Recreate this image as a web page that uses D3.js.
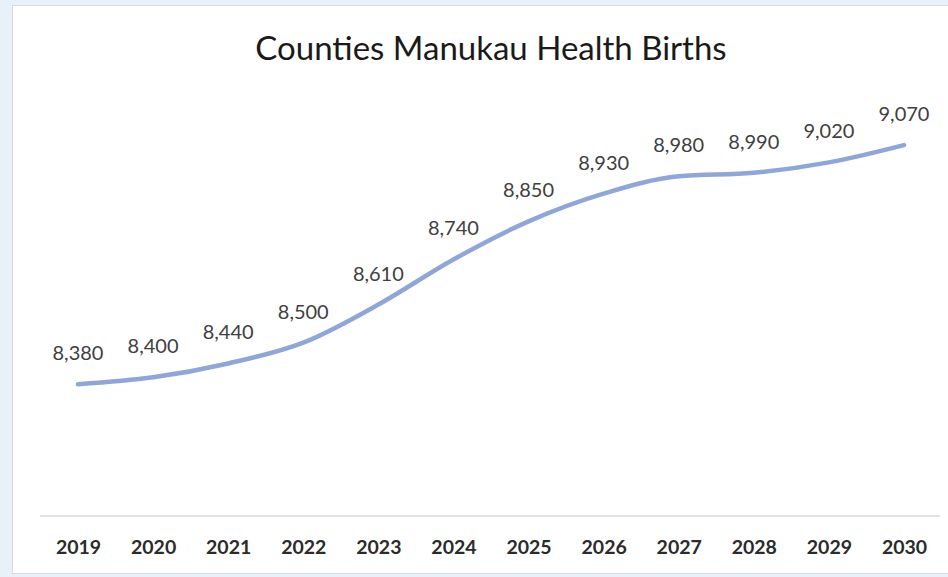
<!DOCTYPE html>
<html>
<head>
<meta charset="utf-8">
<script src="https://cdn.jsdelivr.net/npm/d3@7"></script>
<style>
  body { margin: 0; background: #e8f1fa; }
  svg { display: block; }
</style>
</head>
<body>
<div id="chart"></div>
<script>
const years = ['2019', '2020', '2021', '2022', '2023', '2024', '2025', '2026', '2027', '2028', '2029', '2030'];
const births = [8380, 8400, 8440, 8500, 8610, 8740, 8850, 8930, 8980, 8990, 9020, 9070];

const width = 948, height = 577;
const font = 'Lato, "Open Sans", sans-serif';

const svg = d3.select('#chart')
  .append('svg')
  .attr('width', width)
  .attr('height', height);

// white chart panel
svg.append('rect')
  .attr('x', 12.5).attr('y', 5.5)
  .attr('width', 945).attr('height', 568)
  .attr('fill', '#fff')
  .attr('stroke', '#d9d9d9');

const x = d3.scalePoint()
  .domain(years)
  .range([78, 904]);

const y = d3.scaleLinear()
  .domain([8000, 9200])
  .range([516, 100]);

svg.append('text')
  .attr('x', 491).attr('y', 60)
  .attr('text-anchor', 'middle')
  .style('font-family', font)
  .style('font-size', '33px')
  .style('fill', '#1a1a1a')
  .text('Counties Manukau Health Births');

// category axis
const xAxis = svg.append('g')
  .attr('transform', `translate(0,${y(8000)})`)
  .call(d3.axisBottom(x).tickSize(0).tickPadding(24));
xAxis.select('.domain')
  .attr('d', 'M40,0H940')
  .attr('stroke', '#d9d9d9')
  .attr('stroke-width', 1.5);
xAxis.selectAll('text')
  .style('font-family', font)
  .style('font-size', '19.5px')
  .style('font-weight', 'bold')
  .style('fill', '#2b2b2b');

const line = d3.line()
  .x((d, i) => x(years[i]))
  .y(d => y(d))
  .curve(d3.curveMonotoneX);

svg.append('path')
  .datum(births)
  .attr('d', line)
  .attr('fill', 'none')
  .attr('stroke', '#8fa6d6')
  .attr('stroke-width', 4.5)
  .attr('stroke-linecap', 'round');

svg.append('g')
  .selectAll('text')
  .data(births)
  .enter().append('text')
  .attr('x', (d, i) => x(years[i]))
  .attr('y', d => y(d) - 24)
  .attr('text-anchor', 'middle')
  .style('font-family', font)
  .style('font-size', '20px')
  .style('fill', '#404040')
  .text(d => d3.format(',')(d));
</script>
</body>
</html>
